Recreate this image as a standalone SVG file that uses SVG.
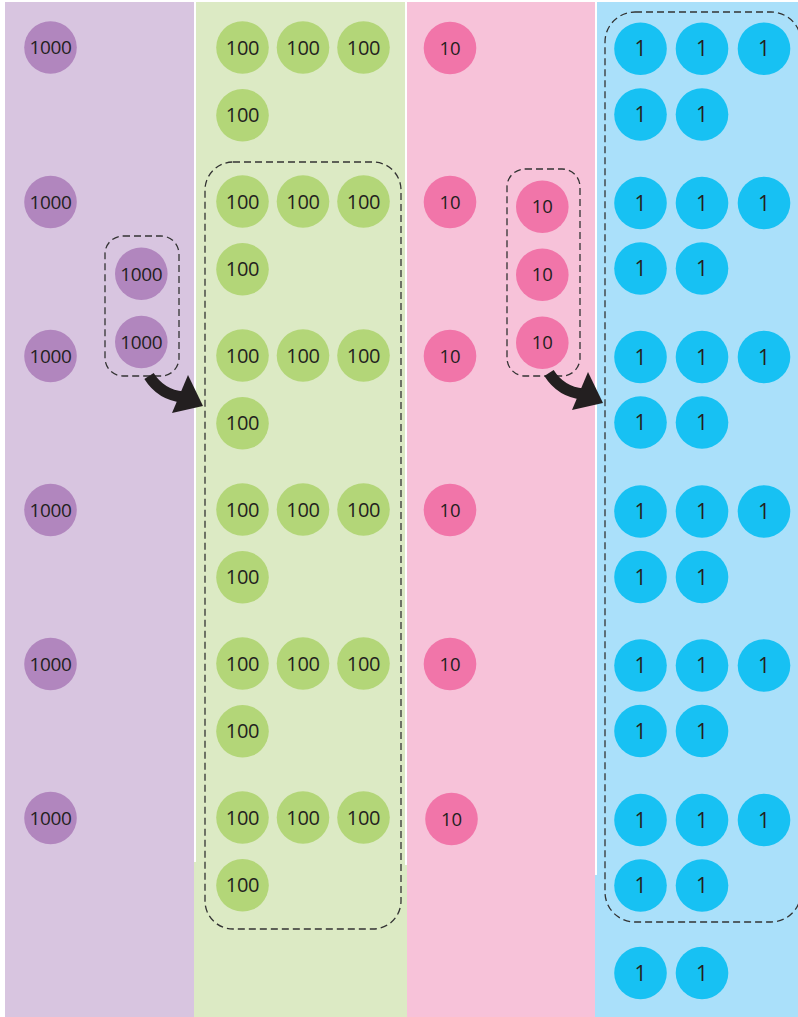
<svg xmlns="http://www.w3.org/2000/svg" xmlns:xlink="http://www.w3.org/1999/xlink" width="798" height="1017" viewBox="0 0 798 1017">
<style>
.c1000{fill:#B186BE}
.c100{fill:#B3D678}
.c10{fill:#F175A9}
.c1{fill:#17C1F3}
.t{font-family:"Open Sans","Liberation Sans",sans-serif;fill:#231F20;text-anchor:middle}
.t1000{font-size:19px;letter-spacing:-0.4px}
.t100{font-size:20px;letter-spacing:-0.3px}
.t10{font-size:18.5px}
.t1{font-size:21px}
.box{fill:none;stroke:#333;stroke-width:1.3;stroke-dasharray:7 4}
</style>
<defs>
<g id="arrow">
<path d="M-53,-29 Q-41,-10 -19,-8" fill="none" stroke="#231F20" stroke-width="11"/>
<polygon points="-14,-30 1,1 -30,8" fill="#231F20"/>
</g>
</defs>
<rect x="0" y="0" width="798" height="1017" fill="#FFFFFF"/>
<g id="columns">
<rect x="5" y="2" width="189" height="1015" fill="#D8C5E0"/>
<rect x="194" y="2" width="213" height="1015" fill="#DCEAC4"/>
<rect x="407" y="2" width="188" height="1015" fill="#F7C2D9"/>
<rect x="595" y="2" width="203" height="1015" fill="#AAE0FA"/>
<rect x="194" y="2" width="2" height="860" fill="#FFFFFF"/>
<rect x="405" y="2" width="2" height="863" fill="#FFFFFF"/>
<rect x="595" y="2" width="2" height="873" fill="#FFFFFF"/>
</g>
<g id="groups">
<rect id="box-thousands" class="box" x="105" y="236" width="74" height="140" rx="18"/>
<rect id="box-hundreds" class="box" x="205" y="162" width="196" height="767" rx="28"/>
<rect id="box-tens" class="box" x="507" y="169" width="73" height="207" rx="18"/>
<rect id="box-ones" class="box" x="605" y="12" width="196" height="910" rx="30"/>
</g>
<g id="connectors">
<use xlink:href="#arrow" transform="translate(202,405)"/>
<use xlink:href="#arrow" transform="translate(602,402)"/>
</g>
<g id="thousands">
<g id="th1"><circle class="c1000" cx="50.5" cy="47.5" r="26.3"/><text class="t t1000" x="50.5" y="54.3">1000</text></g>
<g id="th2"><circle class="c1000" cx="50.5" cy="202" r="26.3"/><text class="t t1000" x="50.5" y="208.8">1000</text></g>
<g id="th3"><circle class="c1000" cx="50.5" cy="356" r="26.3"/><text class="t t1000" x="50.5" y="362.8">1000</text></g>
<g id="th4"><circle class="c1000" cx="50.5" cy="510" r="26.3"/><text class="t t1000" x="50.5" y="516.8">1000</text></g>
<g id="th5"><circle class="c1000" cx="50.5" cy="664" r="26.3"/><text class="t t1000" x="50.5" y="670.8">1000</text></g>
<g id="th6"><circle class="c1000" cx="50.5" cy="818" r="26.3"/><text class="t t1000" x="50.5" y="824.8">1000</text></g>
<g id="th7"><circle class="c1000" cx="141.3" cy="273.7" r="26.3"/><text class="t t1000" x="141.3" y="280.5">1000</text></g>
<g id="th8"><circle class="c1000" cx="141.3" cy="342" r="26.3"/><text class="t t1000" x="141.3" y="348.8">1000</text></g>
</g>
<g id="hundreds">
<g id="h1a"><circle class="c100" cx="242.5" cy="47.5" r="26.3"/><text class="t t100" x="242.5" y="54.6">100</text></g>
<g id="h1b"><circle class="c100" cx="303" cy="47.5" r="26.3"/><text class="t t100" x="303" y="54.6">100</text></g>
<g id="h1c"><circle class="c100" cx="363.5" cy="47.5" r="26.3"/><text class="t t100" x="363.5" y="54.6">100</text></g>
<g id="h1d"><circle class="c100" cx="242.5" cy="115.3" r="26.3"/><text class="t t100" x="242.5" y="122.4">100</text></g>
<g id="h2a"><circle class="c100" cx="242.5" cy="201.5" r="26.3"/><text class="t t100" x="242.5" y="208.6">100</text></g>
<g id="h2b"><circle class="c100" cx="303" cy="201.5" r="26.3"/><text class="t t100" x="303" y="208.6">100</text></g>
<g id="h2c"><circle class="c100" cx="363.5" cy="201.5" r="26.3"/><text class="t t100" x="363.5" y="208.6">100</text></g>
<g id="h2d"><circle class="c100" cx="242.5" cy="269.3" r="26.3"/><text class="t t100" x="242.5" y="276.4">100</text></g>
<g id="h3a"><circle class="c100" cx="242.5" cy="355.5" r="26.3"/><text class="t t100" x="242.5" y="362.6">100</text></g>
<g id="h3b"><circle class="c100" cx="303" cy="355.5" r="26.3"/><text class="t t100" x="303" y="362.6">100</text></g>
<g id="h3c"><circle class="c100" cx="363.5" cy="355.5" r="26.3"/><text class="t t100" x="363.5" y="362.6">100</text></g>
<g id="h3d"><circle class="c100" cx="242.5" cy="423.3" r="26.3"/><text class="t t100" x="242.5" y="430.4">100</text></g>
<g id="h4a"><circle class="c100" cx="242.5" cy="509.5" r="26.3"/><text class="t t100" x="242.5" y="516.6">100</text></g>
<g id="h4b"><circle class="c100" cx="303" cy="509.5" r="26.3"/><text class="t t100" x="303" y="516.6">100</text></g>
<g id="h4c"><circle class="c100" cx="363.5" cy="509.5" r="26.3"/><text class="t t100" x="363.5" y="516.6">100</text></g>
<g id="h4d"><circle class="c100" cx="242.5" cy="577.3" r="26.3"/><text class="t t100" x="242.5" y="584.4">100</text></g>
<g id="h5a"><circle class="c100" cx="242.5" cy="663.5" r="26.3"/><text class="t t100" x="242.5" y="670.6">100</text></g>
<g id="h5b"><circle class="c100" cx="303" cy="663.5" r="26.3"/><text class="t t100" x="303" y="670.6">100</text></g>
<g id="h5c"><circle class="c100" cx="363.5" cy="663.5" r="26.3"/><text class="t t100" x="363.5" y="670.6">100</text></g>
<g id="h5d"><circle class="c100" cx="242.5" cy="731.3" r="26.3"/><text class="t t100" x="242.5" y="738.4">100</text></g>
<g id="h6a"><circle class="c100" cx="242.5" cy="817.5" r="26.3"/><text class="t t100" x="242.5" y="824.6">100</text></g>
<g id="h6b"><circle class="c100" cx="303" cy="817.5" r="26.3"/><text class="t t100" x="303" y="824.6">100</text></g>
<g id="h6c"><circle class="c100" cx="363.5" cy="817.5" r="26.3"/><text class="t t100" x="363.5" y="824.6">100</text></g>
<g id="h6d"><circle class="c100" cx="242.5" cy="885.3" r="26.3"/><text class="t t100" x="242.5" y="892.4">100</text></g>
</g>
<g id="tens">
<g id="te1"><circle class="c10" cx="450" cy="48" r="26.3"/><text class="t t10" x="450" y="54.6">10</text></g>
<g id="te2"><circle class="c10" cx="450" cy="202" r="26.3"/><text class="t t10" x="450" y="208.6">10</text></g>
<g id="te3"><circle class="c10" cx="450" cy="356" r="26.3"/><text class="t t10" x="450" y="362.6">10</text></g>
<g id="te4"><circle class="c10" cx="450" cy="510" r="26.3"/><text class="t t10" x="450" y="516.6">10</text></g>
<g id="te5"><circle class="c10" cx="450" cy="664" r="26.3"/><text class="t t10" x="450" y="670.6">10</text></g>
<g id="te6"><circle class="c10" cx="451.5" cy="819" r="26.3"/><text class="t t10" x="451.5" y="825.6">10</text></g>
<g id="te7"><circle class="c10" cx="542.3" cy="206.7" r="26.3"/><text class="t t10" x="542.3" y="213.3">10</text></g>
<g id="te8"><circle class="c10" cx="542.3" cy="274.7" r="26.3"/><text class="t t10" x="542.3" y="281.3">10</text></g>
<g id="te9"><circle class="c10" cx="542.3" cy="342.7" r="26.3"/><text class="t t10" x="542.3" y="349.3">10</text></g>
</g>
<g id="ones">
<g id="o1a"><circle class="c1" cx="640.5" cy="48.7" r="26.3"/><text class="t t1" x="640.5" y="56.2">1</text></g>
<g id="o1b"><circle class="c1" cx="702" cy="48.7" r="26.3"/><text class="t t1" x="702" y="56.2">1</text></g>
<g id="o1c"><circle class="c1" cx="764" cy="48.7" r="26.3"/><text class="t t1" x="764" y="56.2">1</text></g>
<g id="o1d"><circle class="c1" cx="640.5" cy="114.5" r="26.3"/><text class="t t1" x="640.5" y="122">1</text></g>
<g id="o1e"><circle class="c1" cx="702" cy="114.5" r="26.3"/><text class="t t1" x="702" y="122">1</text></g>
<g id="o2a"><circle class="c1" cx="640.5" cy="203" r="26.3"/><text class="t t1" x="640.5" y="210.5">1</text></g>
<g id="o2b"><circle class="c1" cx="702" cy="203" r="26.3"/><text class="t t1" x="702" y="210.5">1</text></g>
<g id="o2c"><circle class="c1" cx="764" cy="203" r="26.3"/><text class="t t1" x="764" y="210.5">1</text></g>
<g id="o2d"><circle class="c1" cx="640.5" cy="268.5" r="26.3"/><text class="t t1" x="640.5" y="276">1</text></g>
<g id="o2e"><circle class="c1" cx="702" cy="268.5" r="26.3"/><text class="t t1" x="702" y="276">1</text></g>
<g id="o3a"><circle class="c1" cx="640.5" cy="357" r="26.3"/><text class="t t1" x="640.5" y="364.5">1</text></g>
<g id="o3b"><circle class="c1" cx="702" cy="357" r="26.3"/><text class="t t1" x="702" y="364.5">1</text></g>
<g id="o3c"><circle class="c1" cx="764" cy="357" r="26.3"/><text class="t t1" x="764" y="364.5">1</text></g>
<g id="o3d"><circle class="c1" cx="640.5" cy="422.5" r="26.3"/><text class="t t1" x="640.5" y="430">1</text></g>
<g id="o3e"><circle class="c1" cx="702" cy="422.5" r="26.3"/><text class="t t1" x="702" y="430">1</text></g>
<g id="o4a"><circle class="c1" cx="640.5" cy="511.5" r="26.3"/><text class="t t1" x="640.5" y="519">1</text></g>
<g id="o4b"><circle class="c1" cx="702" cy="511.5" r="26.3"/><text class="t t1" x="702" y="519">1</text></g>
<g id="o4c"><circle class="c1" cx="764" cy="511.5" r="26.3"/><text class="t t1" x="764" y="519">1</text></g>
<g id="o4d"><circle class="c1" cx="640.5" cy="577" r="26.3"/><text class="t t1" x="640.5" y="584.5">1</text></g>
<g id="o4e"><circle class="c1" cx="702" cy="577" r="26.3"/><text class="t t1" x="702" y="584.5">1</text></g>
<g id="o5a"><circle class="c1" cx="640.5" cy="665.5" r="26.3"/><text class="t t1" x="640.5" y="673">1</text></g>
<g id="o5b"><circle class="c1" cx="702" cy="665.5" r="26.3"/><text class="t t1" x="702" y="673">1</text></g>
<g id="o5c"><circle class="c1" cx="764" cy="665.5" r="26.3"/><text class="t t1" x="764" y="673">1</text></g>
<g id="o5d"><circle class="c1" cx="640.5" cy="731" r="26.3"/><text class="t t1" x="640.5" y="738.5">1</text></g>
<g id="o5e"><circle class="c1" cx="702" cy="731" r="26.3"/><text class="t t1" x="702" y="738.5">1</text></g>
<g id="o6a"><circle class="c1" cx="640.5" cy="820" r="26.3"/><text class="t t1" x="640.5" y="827.5">1</text></g>
<g id="o6b"><circle class="c1" cx="702" cy="820" r="26.3"/><text class="t t1" x="702" y="827.5">1</text></g>
<g id="o6c"><circle class="c1" cx="764" cy="820" r="26.3"/><text class="t t1" x="764" y="827.5">1</text></g>
<g id="o6d"><circle class="c1" cx="640.5" cy="885.5" r="26.3"/><text class="t t1" x="640.5" y="893">1</text></g>
<g id="o6e"><circle class="c1" cx="702" cy="885.5" r="26.3"/><text class="t t1" x="702" y="893">1</text></g>
<g id="o7a"><circle class="c1" cx="640.5" cy="973" r="26.3"/><text class="t t1" x="640.5" y="980.5">1</text></g>
<g id="o7b"><circle class="c1" cx="702" cy="973" r="26.3"/><text class="t t1" x="702" y="980.5">1</text></g>
</g>
</svg>
